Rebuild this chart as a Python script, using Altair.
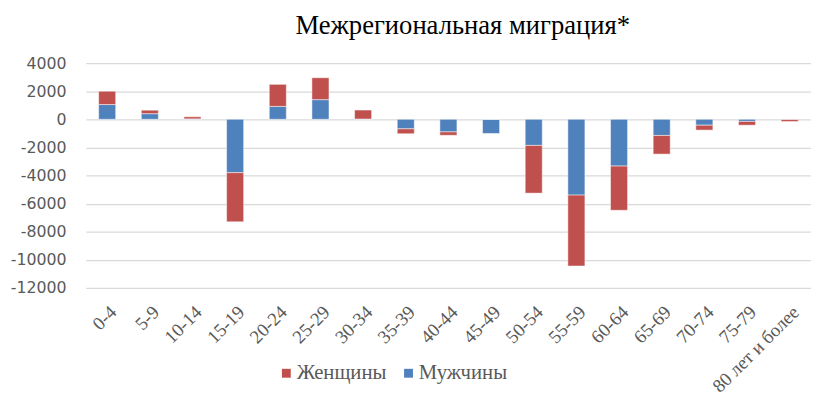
import altair as alt
import pandas as pd

categories = ["0-4", "5-9", "10-14", "15-19", "20-24", "25-29", "30-34", "35-39",
              "40-44", "45-49", "50-54", "55-59", "60-64", "65-69", "70-74", "75-79",
              "80 лет и более"]
men = [1050, 400, 30, -3800, 920, 1400, 20, -680, -900, -1010, -1860, -5400, -3330, -1150, -420, -150, -20]
women = [950, 250, 150, -3500, 1570, 1560, 640, -350, -240, 0, -3400, -5050, -3150, -1330, -350, -270, -140]
series = ["Женщины", "Мужчины"]
colors = ["#C0504D", "#4F81BD"]

rows = []
for c, m, w in zip(categories, men, women):
    rows.append({"cat": c, "series": "Мужчины", "value": m, "ord": 0})
    rows.append({"cat": c, "series": "Женщины", "value": w, "ord": 1})
df = pd.DataFrame(rows)

chart = alt.Chart(df).mark_bar(stroke="white", strokeWidth=0.5).encode(
    x=alt.X("cat:N", sort=categories,
            scale=alt.Scale(paddingInner=0.6, paddingOuter=0.3, range=[0, 736]),
            axis=alt.Axis(title=None, labelAngle=-45, labelFont="Liberation Serif",
                          labelFontSize=19, labelColor="#595959", ticks=False,
                          domain=False, labelPadding=15, grid=False)),
    y=alt.Y("value:Q", stack="zero",
            scale=alt.Scale(domain=[-12000, 4000], nice=False),
            axis=alt.Axis(title=None, values=list(range(-12000, 4001, 2000)),
                          format="d",
                          labelExpr="replace(datum.label, '\u2212', '-')",
                          labelFont="DejaVu Sans", labelFontSize=16,
                          labelColor="#595959", ticks=False, domain=False,
                          labelPadding=20, gridColor="#D9D9D9", gridWidth=1.3)),
    color=alt.Color("series:N", scale=alt.Scale(domain=series, range=colors),
                    legend=alt.Legend(title=None, orient="none", direction="horizontal",
                                      legendX=193, legendY=304, symbolType="square",
                                      symbolSize=81, symbolStrokeWidth=0,
                                      labelFont="Liberation Serif", labelFontSize=21,
                                      labelColor="#595959", columnPadding=11,
                                      labelOffset=0)),
    order=alt.Order("ord:Q"),
).properties(
    width=731, height=228,
    title=alt.TitleParams("Межрегиональная миграция*", font="Liberation Serif",
                          fontSize=27, fontWeight="normal", color="black",
                          anchor="middle", dx=17, offset=16),
    padding={"left": 2, "top": 1, "right": 0, "bottom": 5},
).configure_view(stroke=None)

chart.save("out.html", embed_options={"renderer": "svg", "actions": False})
